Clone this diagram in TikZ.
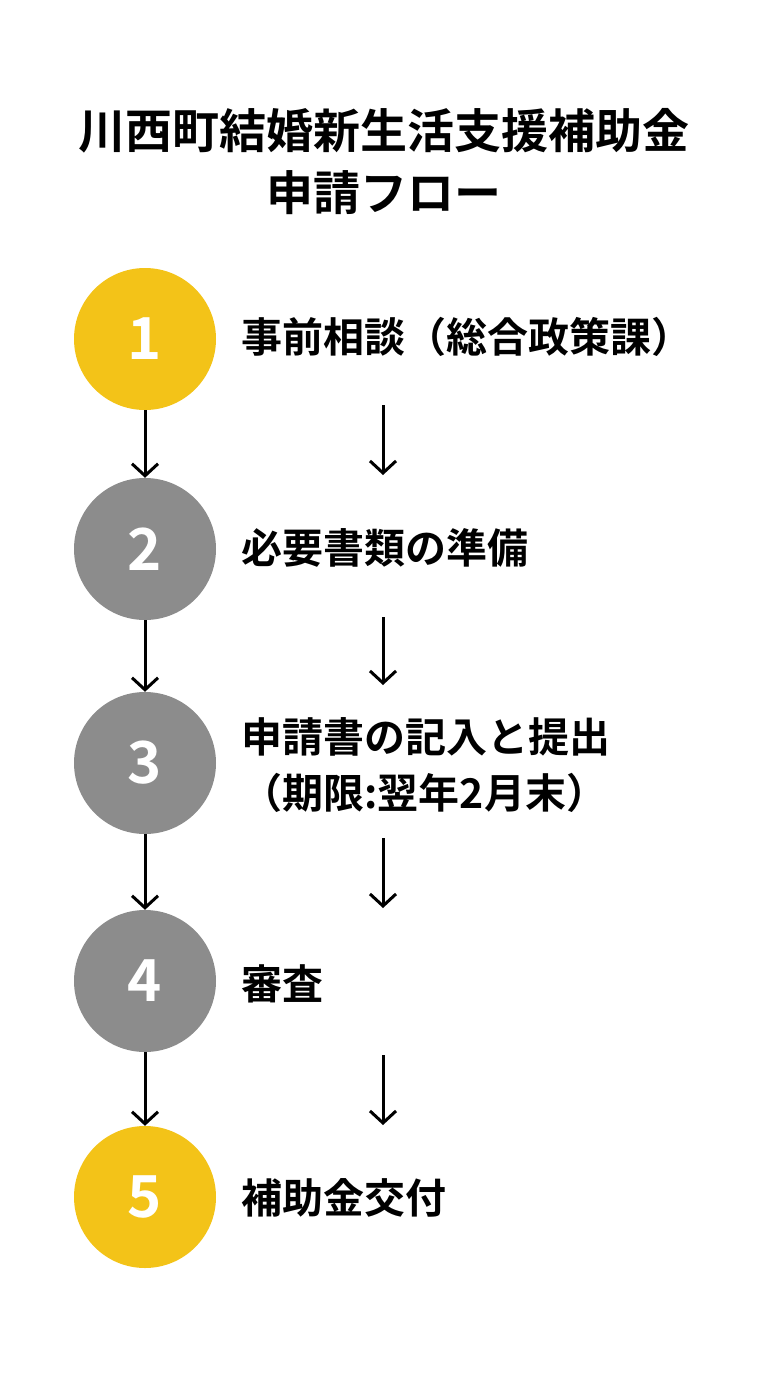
\documentclass[tikz,border=0pt]{standalone}
\usepackage{fontspec}
\setmainfont{Noto Sans CJK JP}[BoldFont={Noto Sans CJK JP Bold}]
\usetikzlibrary{arrows.meta}
\begin{document}
\begin{tikzpicture}[x=1pt,y=-1pt,
  stepc/.style={circle,minimum size=142pt,inner sep=0pt,text=white,font=\fontsize{58}{60}\selectfont\bfseries},
  yel/.style={stepc,fill=stepyellow},
  gry/.style={stepc,fill=stepgray},
  lbl/.style={anchor=west,align=left,font=\fontsize{41}{56}\selectfont\bfseries},
  arr/.style={line width=3pt,-{Straight Barb[length=12pt,width=26pt,line width=3pt]}}]
\definecolor{stepyellow}{HTML}{F3C318}
\definecolor{stepgray}{HTML}{8C8C8C}
\useasboundingbox (0,0) rectangle (768,1376);
\node[font=\fontsize{47}{62}\selectfont\bfseries,align=center] (title) at (384,162) {川西町結婚新生活支援補助金\\申請フロー};
\node[yel] (c1) at (145,339) {1};
\node[gry] (c2) at (145,549) {2};
\node[gry] (c3) at (145,763) {3};
\node[gry] (c4) at (145,981) {4};
\node[yel] (c5) at (145,1197) {5};
\node[lbl] (t1) at (238,337) {事前相談（総合政策課）};
\node[lbl] (t2) at (238,548) {必要書類の準備};
\node[lbl] (t3) at (238,765) {申請書の記入と提出\\（期限:翌年2月末）};
\node[lbl] (t4) at (238,984) {審査};
\node[lbl] (t5) at (238,1198) {補助金交付};
\draw[arr] (c1) -- (c2);
\draw[arr] (c2) -- (c3);
\draw[arr] (c3) -- (c4);
\draw[arr] (c4) -- (c5);
\coordinate (a1) at (383,405); \coordinate (b1) at (383,475);
\coordinate (a2) at (383,617); \coordinate (b2) at (383,685);
\coordinate (a3) at (383,838); \coordinate (b3) at (383,908);
\coordinate (a4) at (383,1055); \coordinate (b4) at (383,1125);
\draw[arr] (a1) -- (b1);
\draw[arr] (a2) -- (b2);
\draw[arr] (a3) -- (b3);
\draw[arr] (a4) -- (b4);
\end{tikzpicture}
\end{document}
